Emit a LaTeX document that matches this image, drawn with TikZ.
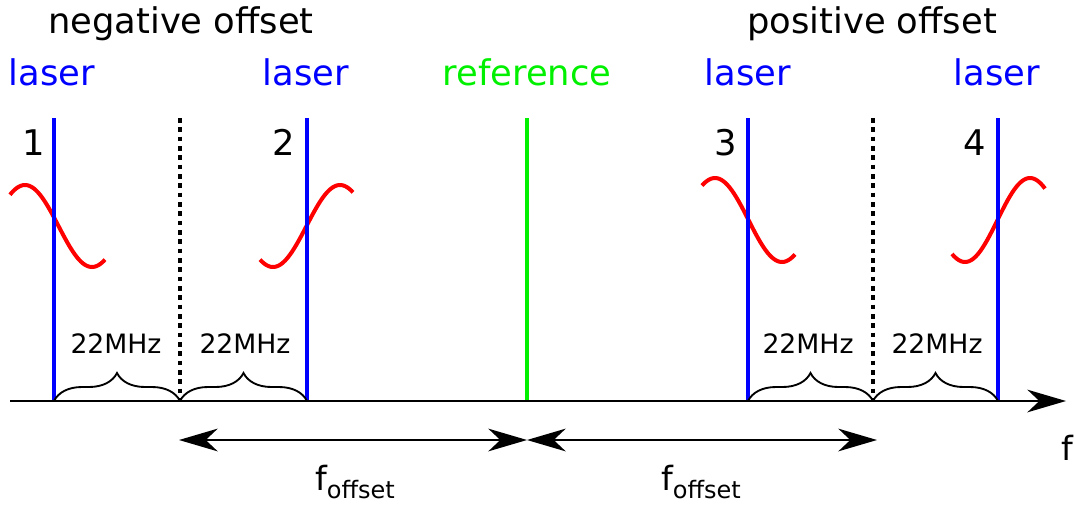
\documentclass[tikz,border=0pt]{standalone}
\usepackage{fontspec}
\setmainfont{DejaVu Sans}
\usetikzlibrary{arrows.meta,decorations.pathreplacing}
\definecolor{lblue}{RGB}{0,0,255}
\definecolor{lgreen}{RGB}{0,240,0}
\definecolor{lred}{RGB}{255,0,0}
\tikzset{
  big/.style={font=\fontsize{26.5}{30}\selectfont, inner sep=0pt, anchor=base},
  small/.style={font=\fontsize{20}{24}\selectfont, inner sep=0pt, anchor=base},
  flab/.style={font=\fontsize{25}{28}\selectfont, inner sep=0pt, anchor=base},
  laserline/.style={draw=lblue, line width=3pt},
  refline/.style={draw=lgreen, line width=3pt},
  sepline/.style={draw=black, line width=3pt, dash pattern=on 3.5pt off 3.5pt},
  wave/.style={draw=lred, line width=3pt, smooth, samples=60},
  axisline/.style={draw=black, line width=1.4pt, -{Stealth[length=29pt,width=17pt,inset=9pt]}},
  offarrow/.style={draw=black, line width=1.8pt, {Stealth[length=29pt,width=17pt,inset=9pt]}-{Stealth[length=29pt,width=17pt,inset=9pt]}},
  bracestyle/.style={draw=black, line width=1.4pt, decorate, decoration={brace, amplitude=21pt}}
}
\newcommand{\foff}{f\raisebox{-6pt}{\fontsize{18}{20}\selectfont offset}}
\begin{document}
\begin{tikzpicture}[x=0.75pt,y=-0.75pt]
\useasboundingbox (0,0) rectangle (1074,504);
% coordinates
\foreach \n/\x in {1/54,2/307,3/748,4/998}{
  \coordinate (l\n t) at (\x,118);
  \coordinate (l\n b) at (\x,401);
}
\coordinate (reft) at (527,118);
\coordinate (refb) at (527,401);
\coordinate (s1t) at (180,118);
\coordinate (s1b) at (180,401);
\coordinate (s2t) at (873,118);
\coordinate (s2b) at (873,401);
\coordinate (ax0) at (10,401);
\coordinate (ax1) at (1066,401);
\coordinate (oa) at (179,440);
\coordinate (ob) at (527,440);
\coordinate (oc) at (877,440);

% waves
\draw[wave] plot[domain=10:105] ({\x},{226-41*cos(180*(\x-25)/67)});
\draw[wave] plot[domain=260:353] ({\x},{226+41*cos(180*(\x-273)/67)});
\draw[wave] plot[domain=702:795] ({\x},{220-42*cos(180*(\x-715)/67)});
\draw[wave] plot[domain=952:1045] ({\x},{220+42*cos(180*(\x-965)/65)});

% vertical lines
\draw[laserline] (l1t) -- (l1b);
\draw[laserline] (l2t) -- (l2b);
\draw[laserline] (l3t) -- (l3b);
\draw[laserline] (l4t) -- (l4b);
\draw[refline] (reft) -- (refb);
\draw[sepline] (s1t) -- (s1b);
\draw[sepline] (s2t) -- (s2b);

% axis
\draw[axisline] (ax0) -- (ax1);

% braces
\draw[bracestyle] (l1b) -- (s1b);
\draw[bracestyle] (s1b) -- (l2b);
\draw[bracestyle] (l3b) -- (s2b);
\draw[bracestyle] (s2b) -- (l4b);

% offset arrows
\draw[offarrow] (oa) -- (ob);
\draw[offarrow] (ob) -- (oc);

% labels
\node[big] (neg) at (181,33) {negative offset};
\node[big] (pos) at (872,33) {positive offset};
\node[big, text=lblue] (las1) at (52,85) {laser};
\node[big, text=lblue] (las2) at (306,85) {laser};
\node[big, text=lgreen] (ref) at (527,85) {reference};
\node[big, text=lblue] (las3) at (748,85) {laser};
\node[big, text=lblue] (las4) at (997,85) {laser};
\node[big] (n1) at (34,155) {1};
\node[big] (n2) at (284,155) {2};
\node[big] (n3) at (726,155) {3};
\node[big] (n4) at (975,155) {4};
\node[small] (m1) at (116,353) {22MHz};
\node[small] (m2) at (245,353) {22MHz};
\node[small] (m3) at (808,353) {22MHz};
\node[small] (m4) at (937,353) {22MHz};
\node[flab] (fo1) at (355,490) {\foff};
\node[flab] (fo2) at (701,490) {\foff};
\node[flab] (fax) at (1067,460) {f};
\end{tikzpicture}
\end{document}
